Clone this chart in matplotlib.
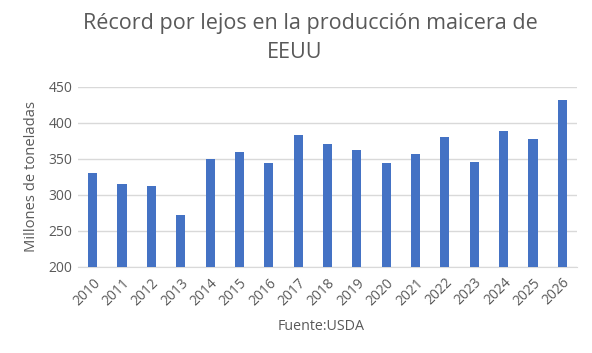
import numpy as np
import matplotlib
matplotlib.use('Agg')
import matplotlib.pyplot as plt

years = [str(y) for y in range(2010, 2027)]
produccion = [331, 315, 313, 272, 350, 360, 345, 384, 371, 362, 345, 357, 381, 346, 389, 378, 432]
yticks = [200, 250, 300, 350, 400, 450]

plt.rcParams['font.family'] = ['Open Sans', 'DejaVu Sans']
txt = '#595959'

fig = plt.figure(figsize=(5.92, 3.53), dpi=100)
ax = fig.add_axes([78/592, 1-267/353, 499/592, 180/353])

x = np.arange(len(years))
ax.bar(x, produccion, 0.31, color='#4472C4', zorder=3)

ax.set_ylim(200, 450)
ax.set_xlim(-0.5, len(years)-0.5)
ax.set_yticks(yticks)
ax.set_yticklabels([str(t) for t in yticks], fontsize=10, color=txt)
ax.set_xticks(x)
ax.set_xticklabels(years, rotation=45, ha='right', rotation_mode='anchor', fontsize=10, color=txt)
ax.tick_params(length=0, pad=4)
ax.tick_params(axis='x', pad=6)
ax.grid(True, axis='y', color='#d9d9d9', lw=1, zorder=0)
for s in ['top', 'right', 'left']:
    ax.spines[s].set_visible(False)
ax.spines['bottom'].set_color('#d9d9d9')

ax.set_ylabel('Millones de toneladas', fontsize=10.6, color=txt, labelpad=7)
fig.text(321/592, 1-326/353, 'Fuente:USDA', fontsize=10.3, color=txt, ha='center', va='center')
fig.text(310/592, 1-23/353, 'Récord por lejos en la producción maicera de', fontsize=15.5, color=txt, ha='center', va='center')
fig.text(295/592, 1-53/353, 'EEUU', fontsize=15.5, color=txt, ha='center', va='center')

plt.savefig('out.png', dpi=100)
